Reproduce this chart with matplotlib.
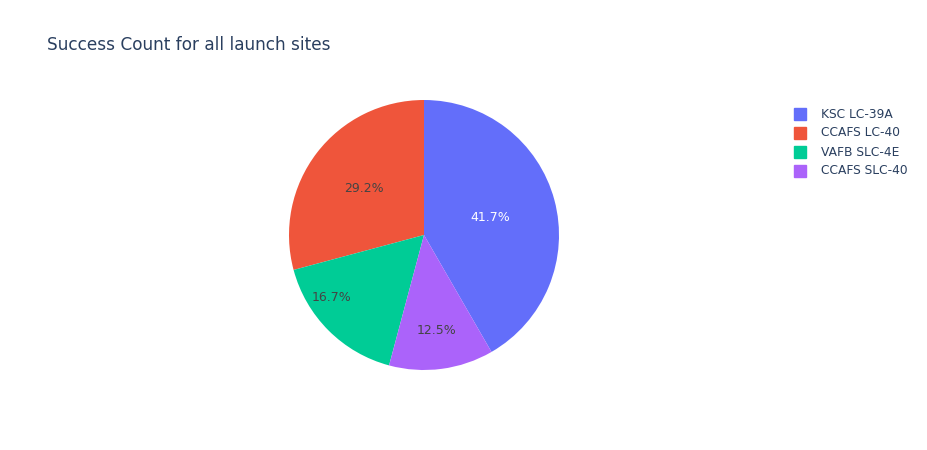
import numpy as np
import matplotlib
matplotlib.use("Agg")
import matplotlib.pyplot as plt
from matplotlib.patches import Rectangle

sites = ["KSC LC-39A", "CCAFS LC-40", "VAFB SLC-4E", "CCAFS SLC-40"]
success = [10, 7, 4, 3]
colors = ["#636efa", "#EF553B", "#00cc96", "#ab63fa"]
label_colors = ["white", "#444444", "#444444", "#444444"]
label_radius = [0.51, 0.56, 0.83, 0.71]
label_shift = [0, 0, -11, 0]  # degrees off the wedge middle

plt.rcParams["font.family"] = ["DejaVu Sans"]
text_color = "#2a3f5f"

fig = plt.figure(figsize=(9.27, 4.5), dpi=100)
W, H = 927, 450

# pie area: centre (424, 235), radius 135 px
ax = fig.add_axes([289 / W, (H - 370) / H, 270 / W, 270 / H])
total = sum(success)
wedges, _, autotexts = ax.pie(
    success, colors=colors, startangle=90 - 360 * success[0] / total,
    counterclock=True, autopct="%1.1f%%", pctdistance=0.6,
    wedgeprops=dict(linewidth=0), textprops=dict(fontsize=9),
)
for w, t, r, s, c in zip(wedges, autotexts, label_radius, label_shift, label_colors):
    mid = np.deg2rad((w.theta1 + w.theta2) / 2 + s)
    t.set_position((r * np.cos(mid), r * np.sin(mid)))
    t.set_color(c)
ax.set_xlim(-1, 1)
ax.set_ylim(-1, 1)
ax.axis("off")

fig.text(47 / W, 1 - 45 / H, "Success Count for all launch sites",
         fontsize=12.2, color=text_color, va="center", ha="left")

# legend
for i, (name, col) in enumerate(zip(sites, colors)):
    y = 114 + 19 * i
    fig.patches.append(Rectangle((794 / W, 1 - (y + 6) / H), 12 / W, 12 / H,
                                 transform=fig.transFigure, color=col, figure=fig))
    fig.text(821 / W, 1 - y / H, name, fontsize=8.8, color=text_color,
             va="center", ha="left")

fig.savefig("out.png", dpi=100)
